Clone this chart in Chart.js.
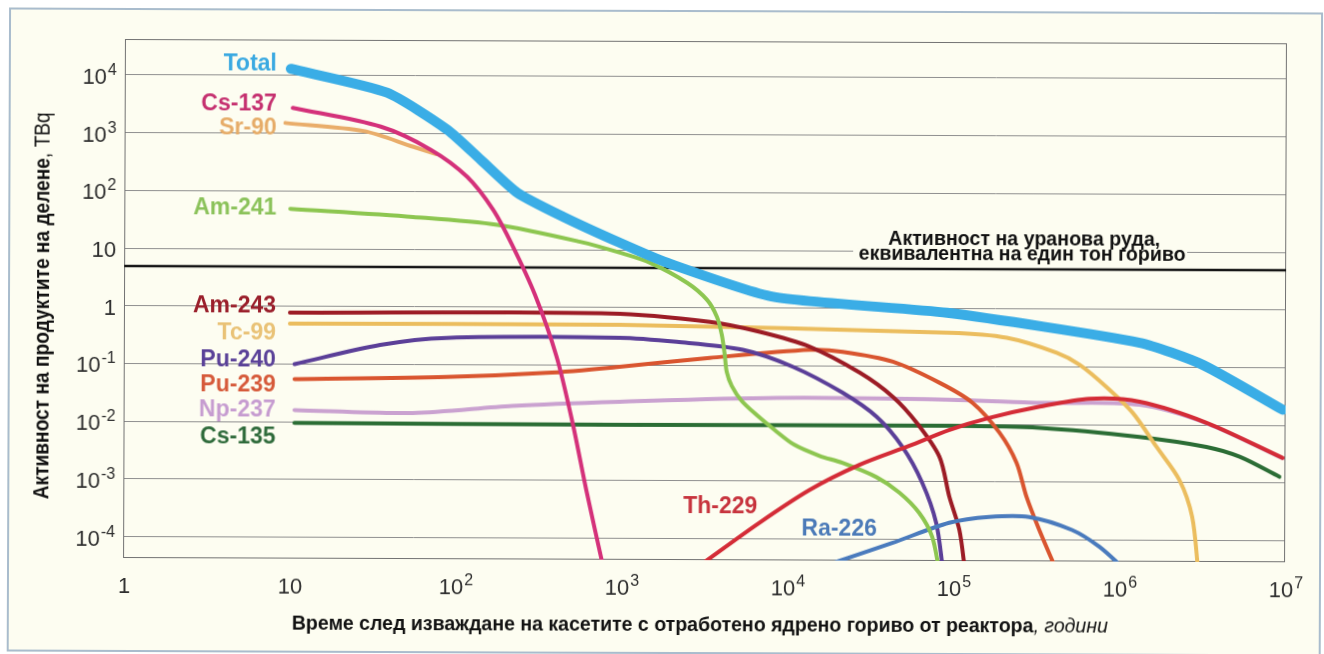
<!DOCTYPE html>
<html>
<head>
<meta charset="utf-8">
<script src="https://cdn.jsdelivr.net/npm/chart.js@4.4.1/dist/chart.umd.min.js"></script>
<style>
  html, body { margin: 0; padding: 0; background: #fff; overflow: hidden; }
  /* the scanned original is turned a fraction of a degree clockwise */
  #page { position: relative; width: 1324px; height: 654px; transform: rotate(0.21deg); transform-origin: 124px 300px; }
  #frame { position: absolute; left: 8px; top: 8px; width: 1310px; height: 640px; border: 2px solid #a9bccd; background: #fdfdf1; }
  canvas { position: absolute; left: 0; top: 0; }
</style>
</head>
<body>
<div id="page">
  <div id="frame"></div>
  <canvas id="decayChart" width="1324" height="654"></canvas>
</div>
<script>
// ticks
const xDecades = [1, 10, 100, 1e3, 1e4, 1e5, 1e6, 1e7];
const yDecades = [1e4, 1e3, 100, 10, 1, 0.1, 0.01, 1e-3, 1e-4];

// [years, TBq]
const total  = [[10, 13000], [38, 5100], [88, 1170], [140, 356], [233, 96], [441, 37], [970, 13.2], [1870, 6.0], [8130, 1.57], [91000, 0.85], [1.32e6, 0.265], [3.16e6, 0.111], [9.6e6, 0.0187]];
const cs137  = [[10.3, 2750], [35, 1310], [70, 526], [116, 180], [167, 48], [220, 11.1], [299, 1.64], [405, 0.139], [507, 0.01], [615, 6.9e-4], [785, 3e-5]];
const sr90   = [[9.3, 1500], [27.5, 1100], [55, 590], [75, 445]];
const am241  = [[10, 49], [55, 36], [177, 26.6], [558, 13.7], [972, 8.9], [1474, 6.0], [2466, 2.71], [3250, 1.38], [3735, 0.70], [4000, 0.342], [4170, 0.154], [4290, 0.0783], [4600, 0.0448], [5280, 0.0247], [6500, 0.0141], [8350, 0.00778], [11000, 0.0043], [15600, 0.00278], [21400, 0.00211], [34400, 0.0012], [47300, 6.5e-4], [62400, 2.9e-4], [74700, 1.13e-4], [82500, 3e-5]];
const am243  = [[10, 0.78], [847, 0.79], [3390, 0.574], [6780, 0.388], [13600, 0.215], [27200, 0.077], [43000, 0.0297], [59900, 0.0106], [82400, 0.00272], [94600, 5.6e-4], [109000, 1.48e-4], [118000, 3e-5]];
const tc99   = [[10, 0.5], [970, 0.5], [94600, 0.385], [2.08e5, 0.318], [4.17e5, 0.176], [5.74e5, 0.109], [8.3e5, 0.0456], [1.2e6, 0.0162], [1.67e6, 0.0042], [2.3e6, 0.00112], [2.75e6, 2.58e-4], [3.0e6, 3e-5]];
const pu240  = [[10.7, 0.1], [35, 0.217], [88, 0.291], [970, 0.30], [2140, 0.257], [5350, 0.189], [10700, 0.097], [21400, 0.0346], [34400, 0.0133], [49300, 0.004], [65000, 9.6e-4], [79000, 1.95e-4], [87000, 3e-5]];
const pu239  = [[10.7, 0.055], [88, 0.061], [353, 0.073], [970, 0.094], [3390, 0.136], [13600, 0.19], [21400, 0.177], [43000, 0.12], [82400, 0.052], [1.3e5, 0.0236], [1.89e5, 0.0072], [2.4e5, 0.00217], [2.76e5, 5.6e-4], [3.3e5, 1.5e-4], [4.2e5, 3e-5]];
const np237  = [[10.7, 0.016], [55, 0.0145], [220, 0.0195], [970, 0.0233], [8600, 0.0279], [94600, 0.0265], [3.3e5, 0.0238], [1.32e6, 0.0223], [3.34e6, 0.0108], [9.6e6, 0.0027]];
const cs135  = [[10.7, 0.0096], [970, 0.0093], [94600, 0.0094], [3.3e5, 0.0088], [1.32e6, 0.0062], [3.34e6, 0.0042], [5.3e6, 0.00285], [9.2e6, 0.00129]];
const th229  = [[3000, 3.5e-5], [6780, 1.9e-4], [13600, 7.1e-4], [27200, 0.00195], [54300, 0.0042], [94600, 0.008], [1.65e5, 0.013], [3.3e5, 0.0204], [6.6e5, 0.0282], [1.32e6, 0.0252], [3.34e6, 0.011], [9.6e6, 0.00275]];
const ra226  = [[17000, 3.5e-5], [43000, 8.7e-5], [94600, 1.96e-4], [1.65e5, 2.5e-4], [2.87e5, 2.5e-4], [5.2e5, 1.5e-4], [7.6e5, 7.7e-5], [1.1e6, 3e-5]];
const oreLevel = [[1, 4.9], [1e7, 4.9]];

const yTitle = 'Активност на продуктите на делене';
const yUnit = ', TBq';
const xTitle = 'Време след изваждане на касетите с отработено ядрено гориво от реактора';
const xUnit = ', години';
const oreNote = ['Активност на уранова руда,', 'еквивалентна на един тон гориво'];

// name, colour, where the name sits (x, y, align)
const seriesLabels = [
    ['Total',  '#3aa9e1', 276, 64,  'right'],
    ['Cs-137', '#c5306f', 276, 104, 'right'],
    ['Sr-90',  '#e6ac68', 276, 128, 'right'],
    ['Am-241', '#8bc25a', 276, 208, 'right'],
    ['Am-243', '#9a1f2b', 276, 306, 'right'],
    ['Tc-99',  '#e9c276', 276, 333, 'right'],
    ['Pu-240', '#5a4198', 276, 360, 'right'],
    ['Pu-239', '#d65a3a', 276, 385, 'right'],
    ['Np-237', '#c69cd0', 276, 410, 'right'],
    ['Cs-135', '#2f6b3b', 276, 437, 'right'],
    ['Th-229', '#c7333d', 721, 505, 'center'],
    ['Ra-226', '#4b7ab8', 840, 527, 'center']
];

const FONT = '"Liberation Sans", Arial, sans-serif';
const BG = '#fdfdf1';

function series(label, points, color, width, tension) {
    return {
        label: label,
        data: points.map(p => ({ x: p[0], y: p[1] })),
        borderColor: color,
        borderWidth: width,
        pointRadius: 0,
        borderCapStyle: 'round',
        borderJoinStyle: 'round',
        tension: tension === undefined ? 0.3 : tension,
        fill: false,
        clip: 0
    };
}

// 10 with a raised exponent, base sitting on baseY
function powLabel(ctx, exp, x, baseY, align) {
    const base = exp === 0 ? '1' : '10';
    const sup = (exp === 0 || exp === 1) ? '' : String(exp);
    ctx.font = '22px ' + FONT;
    const bw = ctx.measureText(base).width;
    ctx.font = '16px ' + FONT;
    const sw = sup ? ctx.measureText(sup).width + 1 : 0;
    const left = align === 'right' ? x - bw - sw : x - (bw + sw) / 2;
    ctx.textAlign = 'left';
    ctx.textBaseline = 'alphabetic';
    ctx.font = '22px ' + FONT;
    ctx.fillText(base, left, baseY);
    if (sup) {
        ctx.font = '16px ' + FONT;
        ctx.fillText(sup, left + bw + 1, baseY - 9);
    }
}

// text squeezed to a given width (the original uses a narrow face)
function fitText(ctx, parts, cx, baseY, width, angle) {
    const widths = parts.map(p => { ctx.font = p[1] + ' ' + FONT; return ctx.measureText(p[0]).width; });
    const sum = widths.reduce((a, b) => a + b, 0);
    ctx.save();
    ctx.translate(cx, baseY);
    ctx.rotate(angle);
    ctx.scale(width / sum, 1);
    ctx.textAlign = 'left';
    ctx.textBaseline = 'alphabetic';
    let x = -sum / 2;
    parts.forEach((p, i) => {
        ctx.font = p[1] + ' ' + FONT;
        ctx.fillText(p[0], x, 0);
        x += widths[i];
    });
    ctx.restore();
}

const decorations = {
    id: 'decorations',
    beforeDatasetsDraw(chart) {
        const { ctx, chartArea: a, scales } = chart;
        ctx.save();
        // the "10" grid line stops under the ore note
        const y10 = scales.y.getPixelForValue(10);
        ctx.fillStyle = BG;
        ctx.fillRect(853, y10 - 2, 334, 4);
        ctx.strokeStyle = '#727272';
        ctx.lineWidth = 1;
        ctx.strokeRect(a.left + 0.5, a.top + 0.5, a.width - 1, a.height - 1);
        ctx.restore();
    },
    afterDraw(chart) {
        const { ctx, scales } = chart;
        ctx.save();
        ctx.fillStyle = '#2e2e2e';
        yDecades.forEach(v => powLabel(ctx, Math.round(Math.log10(v)), 116, scales.y.getPixelForValue(v) + 9, 'right'));
        xDecades.forEach(v => powLabel(ctx, Math.round(Math.log10(v)), scales.x.getPixelForValue(v) + 1, 593, 'center'));

        ctx.fillStyle = '#111';
        fitText(ctx, [[yTitle, 'bold 22px'], [yUnit, '22px']], 49, 306, 387, -Math.PI / 2);
        fitText(ctx, [[xTitle, 'bold 20px'], [xUnit, 'italic 20px']], 701, 629, 816, 0);
        fitText(ctx, [[oreNote[0], 'bold 20px']], 1024, 242, 272, 0);
        fitText(ctx, [[oreNote[1], 'bold 20px']], 1022, 257, 327, 0);

        ctx.font = 'bold 23px ' + FONT;
        ctx.textBaseline = 'middle';
        seriesLabels.forEach(l => {
            ctx.fillStyle = l[1];
            ctx.textAlign = l[4];
            ctx.fillText(l[0], l[2], l[3]);
        });
        ctx.restore();
    }
};

new Chart(document.getElementById('decayChart'), {
    type: 'line',
    data: {
        datasets: [
            series('Total', total, '#3aade6', 10, 0.2),
            series('Cs-137', cs137, '#d4317a', 4),
            series('Th-229', th229, '#d42c37', 4),
            series('Am-241', am241, '#8dc650', 4),
            series('Ra-226', ra226, '#4a7bbd', 4),
            series('Am-243', am243, '#9c1c25', 4),
            series('Pu-240', pu240, '#5b3f98', 4),
            series('Pu-239', pu239, '#d9552f', 4),
            series('Tc-99', tc99, '#ebbd5e', 4),
            series('Cs-135', cs135, '#2b6d35', 4),
            series('Np-237', np237, '#caa2d0', 4),
            series('Sr-90', sr90, '#e9ad6a', 4),
            series('Уранова руда', oreLevel, '#151515', 2.5, 0)
        ]
    },
    options: {
        responsive: false,
        animation: false,
        devicePixelRatio: 1,
        layout: { padding: { left: 124, top: 39, right: 38, bottom: 96 } },
        plugins: {
            legend: { display: false },
            tooltip: { enabled: false }
        },
        scales: {
            x: {
                type: 'logarithmic',
                min: 1,
                max: 1e7,
                grid: { display: false, drawTicks: false },
                border: { display: false },
                ticks: { display: false }
            },
            y: {
                type: 'logarithmic',
                min: 4.27e-5,
                max: 4.17e4,
                afterBuildTicks: scale => { scale.ticks = yDecades.map(v => ({ value: v })); },
                grid: { color: '#8f8f8f', lineWidth: 1, drawTicks: false },
                border: { display: false },
                ticks: { display: false }
            }
        }
    },
    plugins: [decorations]
});
</script>
</body>
</html>
